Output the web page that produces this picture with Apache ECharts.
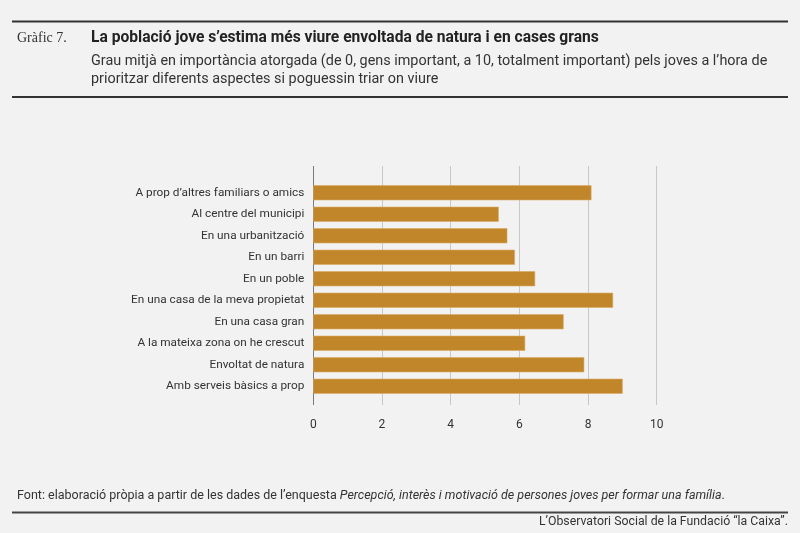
<!DOCTYPE html>
<html>
<head>
<meta charset="utf-8">
<script src="https://cdn.jsdelivr.net/npm/echarts@6/dist/echarts.min.js"></script>
<style>
  html, body { margin: 0; padding: 0; background: #f2f2f2; }
  #chart { width: 800px; height: 533px; }
</style>
</head>
<body>
<div id="chart"></div>
<script>
// dades del gràfic
let categories = [
    'A prop d\u2019altres familiars o amics',
    'Al centre del municipi',
    'En una urbanització',
    'En un barri',
    'En un poble',
    'En una casa de la meva propietat',
    'En una casa gran',
    'A la mateixa zona on he crescut',
    'Envoltat de natura',
    'Amb serveis bàsics a prop'
];
let values = [8.10, 5.40, 5.65, 5.87, 6.46, 8.73, 7.29, 6.17, 7.89, 9.01];
let xTicks = [0, 2, 4, 6, 8, 10];

let font = 'Roboto';
let chart = echarts.init(document.getElementById('chart'));

let option = {
    backgroundColor: '#f2f2f2',
    animation: false,
    textStyle: { fontFamily: font },
    grid: [
        // graella per a les línies verticals i les etiquetes de l'eix
        { left: 313.3, right: 143.3, top: 166, height: 239 },
        // graella per a les barres
        { left: 313.3, right: 143.3, top: 182, height: 215 }
    ],
    xAxis: [{
        gridIndex: 0,
        type: 'value',
        min: xTicks[0],
        max: xTicks[xTicks.length - 1],
        interval: 2,
        axisLine: { show: false },
        axisTick: { show: false },
        axisLabel: { margin: 14, fontSize: 12, color: '#333', fontFamily: font },
        splitLine: {
            show: true,
            lineStyle: { color: ['#7a7a7a', '#c8c8c8', '#c8c8c8', '#c8c8c8', '#c8c8c8', '#c8c8c8'], width: 1 }
        }
    }, {
        gridIndex: 1,
        type: 'value',
        min: xTicks[0],
        max: xTicks[xTicks.length - 1],
        show: false
    }],
    yAxis: [{
        gridIndex: 0,
        type: 'category',
        data: categories,
        show: false
    }, {
        gridIndex: 1,
        type: 'category',
        data: categories,
        inverse: true,
        axisLine: { show: false },
        axisTick: { show: false },
        axisLabel: { margin: 9, fontSize: 11.8, color: '#333', fontFamily: font }
    }],
    series: [{
        type: 'bar',
        xAxisIndex: 1,
        yAxisIndex: 1,
        data: values,
        barWidth: 15,
        itemStyle: { color: '#c1862a', borderColor: '#d9a95e', borderWidth: 0.6 },
        silent: true
    }],
    graphic: [
        { type: 'line', shape: { x1: 12, y1: 21.5, x2: 788, y2: 21.5 }, style: { stroke: '#333', lineWidth: 2 } },
        { type: 'text', left: 17, top: 31, style: { text: 'Gràfic 7.', font: '14px "Liberation Serif", serif', fill: '#333' } },
        { type: 'text', left: 91, top: 30, style: { text: 'La població jove s\u2019estima més viure envoltada de natura i en cases grans', font: 'bold 15.6px Roboto', fill: '#222' } },
        { type: 'text', left: 91, top: 52, style: { text: 'Grau mitjà en importància atorgada (de 0, gens important, a 10, totalment important) pels joves a l\u2019hora de\nprioritzar diferents aspectes si poguessin triar on viure', font: '14.4px Roboto', fill: '#333', lineHeight: 18 } },
        { type: 'line', shape: { x1: 12, y1: 97, x2: 788, y2: 97 }, style: { stroke: '#333', lineWidth: 2 } },
        { type: 'text', left: 17, top: 489, style: { rich: {
            n: { font: '12.5px Roboto', fill: '#333' },
            i: { font: 'italic 12.5px Roboto', fill: '#333' }
        }, text: '{n|Font: elaboració pròpia a partir de les dades de l\u2019enquesta }{i|Percepció, interès i motivació de persones joves per formar una família}{n|.}' } },
        { type: 'line', shape: { x1: 12, y1: 512.5, x2: 788, y2: 512.5 }, style: { stroke: '#444', lineWidth: 2 } },
        { type: 'text', right: 12, top: 516, style: { text: 'L\u2019Observatori Social de la Fundació \u201cla Caixa\u201d.', font: '12.3px Roboto', fill: '#333' } }
    ]
};
chart.setOption(option);
</script>
</body>
</html>
